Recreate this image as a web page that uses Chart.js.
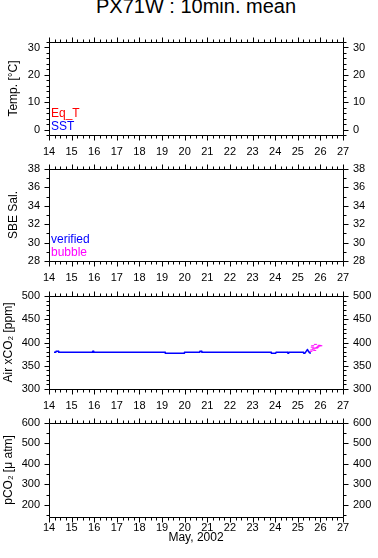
<!DOCTYPE html>
<html>
<head>
<meta charset="utf-8">
<script src="https://cdn.jsdelivr.net/npm/chart.js@4/dist/chart.umd.min.js"></script>
<style>
  body { margin: 0; background: #fff; }
  #wrap { position: relative; width: 378px; height: 558px; overflow: hidden; }
  #wrap canvas { position: absolute; left: 0; }
  #title { position: absolute; left: 0; width: 392px; top: -4px; text-align: center;
           font: 20px "Liberation Sans", Arial, sans-serif; line-height: 20px; color: #000; }
</style>
</head>
<body>
<div id="wrap">
  <div id="title">PX71W : 10min. mean</div>
  <canvas id="c1" width="378" height="129" style="top:32px"></canvas>
  <canvas id="c2" width="378" height="128" style="top:159px"></canvas>
  <canvas id="c3" width="378" height="129" style="top:286px"></canvas>
  <canvas id="c4" width="378" height="144" style="top:413px"></canvas>
</div>
<script>
// x axis: days of May 2002
const dayMin = 14, dayMax = 27;

// Air xCO2, verified (day of May, ppm)
const verifiedDays = [14.22, 14.30, 14.31, 14.42, 14.43, 15.92, 15.93, 15.97, 15.98, 19.13, 19.14, 19.98, 19.99,
  20.66, 20.67, 20.75, 20.76, 23.82, 23.83, 24.03, 24.04, 24.55, 24.56, 24.59, 24.60, 25.24, 25.26, 25.32,
  25.37, 25.43, 25.47, 25.52, 25.58];
const verifiedXco2 = [379, 379, 381, 381, 379, 379, 381, 381, 379, 379, 377, 377, 379,
  379, 381, 381, 379, 379, 377, 377, 379, 379, 377, 377, 379, 379, 377, 377,
  381, 385, 381, 378, 377];

// Air xCO2, bubble
const bubbleDays = [25.58, 25.62, 25.64, 25.66, 25.69, 25.72, 25.75, 25.78, 25.82, 25.86, 25.90, 25.94, 25.98, 26.02];
const bubbleXco2 = [381, 384, 390, 393, 386, 388, 383, 396, 388, 389, 391, 394, 393, 393];

const ySpecs = {
  temp: { min: -2, max: 32, step: 10, minor: 2 },
  sal: { min: 28, max: 38, step: 2, minor: 1 },
  xco2: { min: 300, max: 500, step: 50, minor: 10 },
  pco2: { min: 140, max: 600, step: 100, minor: 50 }
};

const FONT = '"Liberation Sans", Arial, sans-serif';
Chart.defaults.font.family = FONT;
Chart.defaults.color = '#000';

const pts = (xs, ys) => xs.map((x, i) => ({ x: x, y: ys[i] }));

// box, outward ticks and the little coloured legend words
const frame = {
  id: 'frame',
  afterDraw(chart, args, opts) {
    const { ctx, chartArea: a } = chart;
    const x = chart.scales.x, y = chart.scales.y;
    const L = Math.round(a.left) + 0.5, R = Math.round(a.right) + 0.5;
    const T = Math.round(a.top) + 0.5, B = Math.round(a.bottom) + 0.5;
    ctx.save();
    ctx.strokeStyle = '#000';
    ctx.lineWidth = 1;
    ctx.beginPath();
    ctx.rect(L, T, R - L, B - T);
    for (let v = x.min; v <= x.max + 1e-6; v += 0.25) {
      const px = Math.round(x.getPixelForValue(v)) + 0.5;
      const len = Math.abs(v - Math.round(v)) < 1e-6 ? 5 : 3;
      ctx.moveTo(px, T); ctx.lineTo(px, T - len);
      ctx.moveTo(px, B); ctx.lineTo(px, B + len);
    }
    const first = Math.ceil(y.min / opts.minor) * opts.minor;
    for (let v = first; v <= y.max + 1e-6; v += opts.minor) {
      const py = Math.round(y.getPixelForValue(v)) + 0.5;
      const r = v / opts.step;
      const len = Math.abs(r - Math.round(r)) < 1e-6 ? 5 : 3;
      ctx.moveTo(L, py); ctx.lineTo(L - len, py);
      ctx.moveTo(R, py); ctx.lineTo(R + len, py);
    }
    ctx.stroke();
    if (opts.legend) {
      ctx.font = '12px ' + FONT;
      ctx.textBaseline = 'middle';
      chart.data.datasets.forEach((ds, i) => {
        ctx.fillStyle = ds.borderColor;
        ctx.fillText(ds.label, a.left + 2, a.bottom - 21.5 + i * 13);
      });
    }
    ctx.restore();
  }
};

function makePanel(id, datasets, spec, yTitle, titlePad, legend, xTitle) {
  const tickFont = { size: 11, family: FONT };
  const noGrid = { display: false, drawTicks: false };
  // fixed box sizes so the four plots line up like the original
  const fixY = w => s => { s.width = w; s.paddingTop = 0; s.paddingBottom = 0; };
  new Chart(document.getElementById(id), {
    type: 'scatter',
    data: { datasets: datasets },
    options: {
      responsive: false,
      animation: false,
      devicePixelRatio: 1,
      layout: { padding: { top: 10, left: 0, right: 0, bottom: 0 } },
      plugins: {
        legend: { display: false },
        tooltip: { enabled: false },
        frame: { minor: spec.minor, step: spec.step, legend: legend }
      },
      scales: {
        x: {
          type: 'linear', position: 'bottom', min: dayMin, max: dayMax,
          grid: noGrid, border: { display: false },
          ticks: { stepSize: 1, autoSkip: false, padding: xTitle ? 4 : 10, maxRotation: 0, font: tickFont },
          title: { display: !!xTitle, text: xTitle || '', font: { size: 12, family: FONT }, padding: { top: 0, bottom: 12 } },
          afterFit: s => { s.height = xTitle ? 40 : 26; }
        },
        y: {
          type: 'linear', position: 'left', min: spec.min, max: spec.max,
          grid: noGrid, border: { display: false },
          ticks: { stepSize: spec.step, includeBounds: false, padding: 9, font: tickFont },
          title: { display: true, text: yTitle, font: { size: 12, family: FONT }, padding: { top: titlePad, bottom: 0 } },
          afterFit: fixY(49)
        },
        y2: {
          type: 'linear', position: 'right', min: spec.min, max: spec.max,
          grid: noGrid, border: { display: false },
          ticks: { stepSize: spec.step, includeBounds: false, padding: 10, font: tickFont },
          afterFit: fixY(35)
        }
      }
    },
    plugins: [frame]
  });
}

makePanel('c1', [
  { label: 'Eq_T', data: [], borderColor: '#ff0000', backgroundColor: '#ff0000' },
  { label: 'SST', data: [], borderColor: '#0000ff', backgroundColor: '#0000ff' }
], ySpecs.temp, 'Temp. [°C]', 6, true);

makePanel('c2', [
  { label: 'verified', data: [], borderColor: '#0000ff', backgroundColor: '#0000ff' },
  { label: 'bubble', data: [], borderColor: '#ff00ff', backgroundColor: '#ff00ff' }
], ySpecs.sal, 'SBE Sal.', 6, true);

makePanel('c3', [
  { label: 'verified', data: pts(verifiedDays, verifiedXco2), showLine: true, borderColor: '#0000ff',
    backgroundColor: '#0000ff', borderWidth: 1.5, borderJoinStyle: 'round', pointRadius: 0, tension: 0 },
  { label: 'bubble', data: pts(bubbleDays, bubbleXco2), borderColor: '#ff00ff', backgroundColor: '#ff00ff',
    pointStyle: 'line', pointRadius: 1.5, pointBorderWidth: 1 }
], ySpecs.xco2, 'Air xCO₂ [ppm]', 1, false);

makePanel('c4', [
  { label: 'pCO2', data: [], borderColor: '#0000ff', backgroundColor: '#0000ff' }
], ySpecs.pco2, 'pCO₂ [μ atm]', 1, false, 'May, 2002');
</script>
</body>
</html>
